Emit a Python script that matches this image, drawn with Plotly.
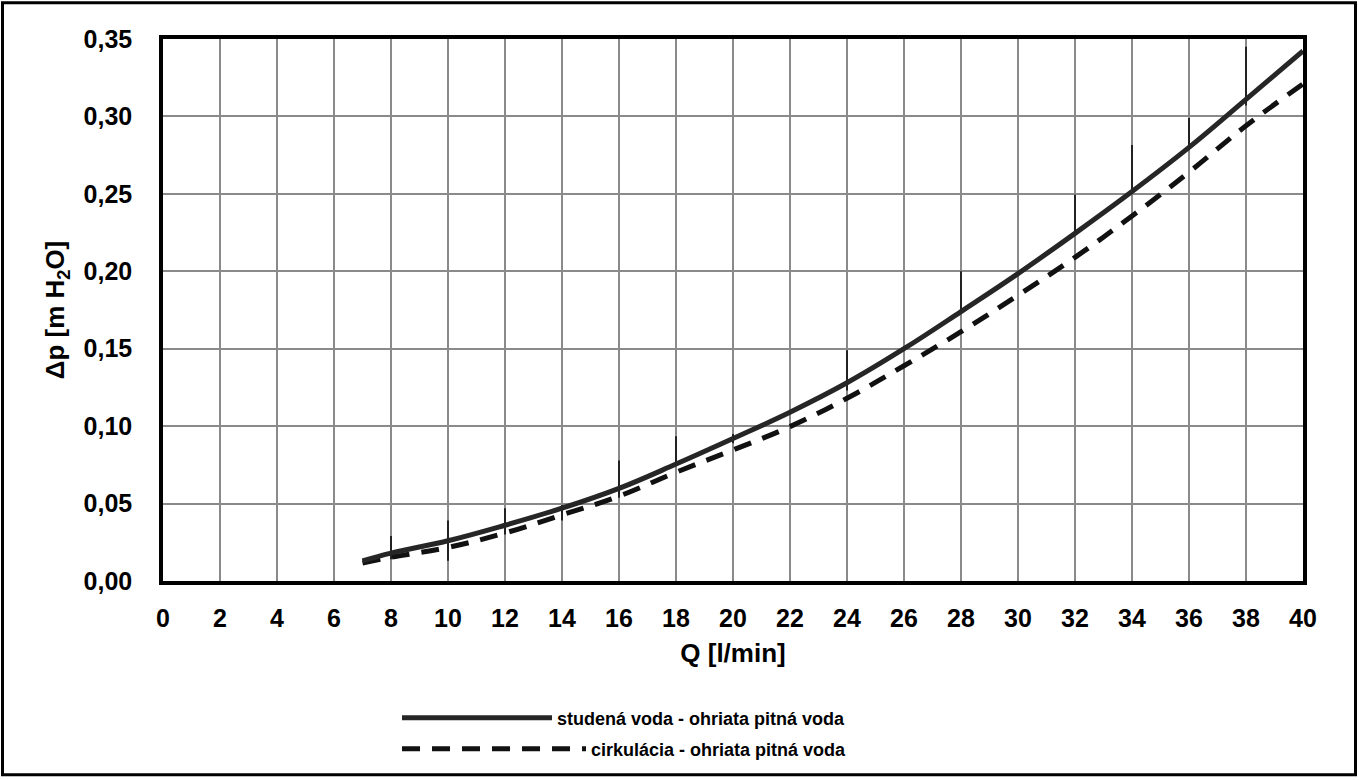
import plotly.graph_objects as go

# ---- data ----
q = [7, 8, 10, 12, 14, 16, 18, 20, 22, 24, 26, 28, 30, 32, 34, 36, 38, 40]
dp_cold = [0.013, 0.018, 0.026, 0.036, 0.047, 0.0598, 0.0755, 0.092, 0.109, 0.128,
           0.150, 0.174, 0.1985, 0.2245, 0.2515, 0.280, 0.311, 0.3423]
dp_circ = [0.0116, 0.0153, 0.0217, 0.031, 0.0427, 0.0548, 0.0702, 0.0846, 0.0997, 0.118,
           0.139, 0.161, 0.1845, 0.209, 0.2357, 0.264, 0.294, 0.321]
# thin vertical marks visible on the solid curve
err_plus = [0, 0.011, 0.013, 0.011, 0.002, 0.018, 0.018, 0.003, 0, 0.021,
            0, 0.026, 0, 0.025, 0.030, 0.019, 0.034, 0]
err_minus = [0, 0.004, 0.013, 0.006, 0.008, 0.006, 0.001, 0.003, 0, 0.005,
             0, 0, 0, 0, 0, 0, 0.004, 0]

name_cold = "studená voda - ohriata pitná voda"
name_circ = "cirkulácia - ohriata pitná voda"

x_ticks = list(range(0, 41, 2))
y_ticks = [0.00, 0.05, 0.10, 0.15, 0.20, 0.25, 0.30, 0.35]

FONT = "Liberation Sans"

fig = go.Figure()
fig.add_trace(go.Scatter(
    x=q, y=dp_circ, mode="lines", name=name_circ,
    line=dict(color="#111111", width=5, dash="18px,12px", shape="spline", smoothing=1.1),
    legend="legend2",
))
fig.add_trace(go.Scatter(
    x=q, y=dp_cold, mode="lines", name=name_cold,
    line=dict(color="#262626", width=5, shape="spline", smoothing=1.1),
    error_y=dict(type="data", symmetric=False, array=err_plus, arrayminus=err_minus,
                 color="#222222", thickness=2, width=0),
    legend="legend",
))

W, H = 1359, 780
L, R, T, B = 163, 56, 39, 197
pw, ph = W - L - R, H - T - B

def px2x(p):
    return (p - L) / pw

def px2y(p):
    return (H - B - p) / ph

fig.update_layout(
    width=W, height=H,
    margin=dict(l=L, r=R, t=T, b=B, pad=0),
    paper_bgcolor="white", plot_bgcolor="white",
    separators=", ",
    font=dict(family=FONT, color="black", size=25, weight="bold"),
    xaxis=dict(
        range=[0, 40], tickvals=x_ticks, showgrid=True, gridcolor="#8a8a8a", gridwidth=1.5,
        zeroline=False, showline=True, linecolor="black", linewidth=3.5, mirror=True,
        ticks="", ticklabelstandoff=12,
        tickfont=dict(family=FONT, size=25, weight="bold"),
        title=dict(text="Q [l/min]", font=dict(family=FONT, size=26, weight="bold"), standoff=14),
    ),
    yaxis=dict(
        range=[0, 0.35], tickvals=y_ticks, tickformat=".2f", showgrid=True,
        gridcolor="#8a8a8a", gridwidth=1.5,
        zeroline=False, showline=True, linecolor="black", linewidth=3.5, mirror=True,
        ticks="", ticklabelstandoff=22,
        tickfont=dict(family=FONT, size=25, weight="bold"),
        title=dict(text="Δp [m H<sub>2</sub>O]", font=dict(family=FONT, size=26, weight="bold"),
                   standoff=12),
    ),
    legend=dict(
        x=px2x(397), y=px2y(702), xanchor="left", yanchor="top",
        xref="paper", yref="paper",
        itemwidth=150, bgcolor="rgba(0,0,0,0)",
        font=dict(family=FONT, size=18, weight="bold"),
    ),
    legend2=dict(
        x=px2x(397), y=px2y(733), xanchor="left", yanchor="top",
        xref="paper", yref="paper",
        itemwidth=184, bgcolor="rgba(0,0,0,0)",
        font=dict(family=FONT, size=18, weight="bold"),
    ),
    showlegend=True,
    shapes=[dict(type="rect", xref="paper", yref="paper",
                 x0=px2x(2.5), x1=px2x(1355.5), y0=px2y(777.5), y1=px2y(2.5),
                 line=dict(color="black", width=3), layer="below")],
)

fig.write_html("out.html", config={"displayModeBar": False},
               post_script="document.body.style.margin='0';")
